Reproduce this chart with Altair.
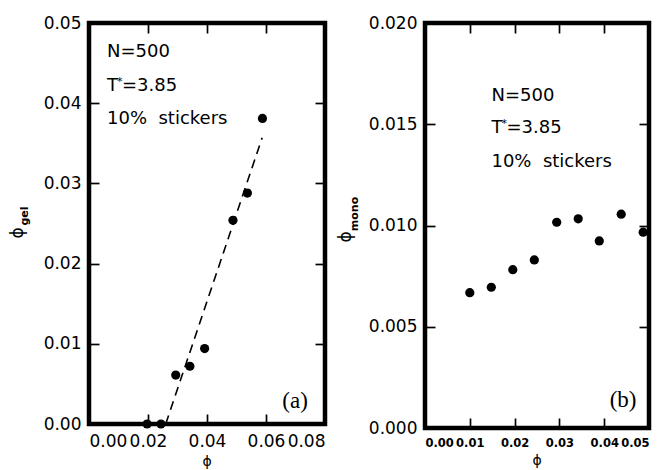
import altair as alt
import pandas as pd

# ---- data ----
phi_a = [0.0197, 0.0244, 0.0294, 0.0342, 0.0392, 0.0488, 0.0537, 0.0588]
phi_gel = [0.0, 0.0, 0.0061, 0.0072, 0.0094, 0.0254, 0.0288, 0.0381]
fit_x = [0.026, 0.0587]
fit_y = [0.0, 0.0357]

phi_b = [0.0100, 0.0148, 0.0196, 0.0244, 0.0294, 0.0342, 0.0389, 0.0438, 0.0487]
phi_mono = [0.00668, 0.00695, 0.00782, 0.0083, 0.01016, 0.01033, 0.00924, 0.01056, 0.00967]

xvals_a = [0, 0.02, 0.04, 0.06, 0.08]
yvals_a = [0, 0.01, 0.02, 0.03, 0.04, 0.05]
xvals_b = [0, 0.01, 0.02, 0.03, 0.04, 0.05]
yvals_b = [0, 0.005, 0.010, 0.015, 0.020]

ann_plain = ["N=500", "10%\u00a0\u00a0stickers"]
ann_t = ["T", "*", "=3.85"]
ann_a_x = 0.0061
ann_a_y_plain = [0.04576, 0.0374]
ann_a_y_t = 0.04152
ann_b_x = 0.01483
ann_b_y_plain = [0.01614, 0.01287]
ann_b_y_t = 0.01455

FONT = "DejaVu Sans"
SERIF = "Liberation Serif"
TICK = 10


def panel(xs, ys, xdom, ydom, xfmt, yfmt, xvals, yvals,
          ann_x, ann_y_plain, ann_y_t, tag, tag_x, tag_y, ysym, ysub, W, H, fit=None,
          sym_dx=-71, sym_dy=210, sub_dx=-64, sub_dy=193, xt_dy=37,
          xlab_size=17, xlab_weight="normal"):
    xscale = alt.Scale(domain=xdom, nice=False, zero=False)
    yscale = alt.Scale(domain=ydom, nice=False, zero=False)
    common = dict(title=None, grid=False, domain=False, tickSize=TICK, offset=-TICK,
                  tickColor="black", tickWidth=1.7, labelOverlap=False)
    xaxis = alt.Axis(orient="bottom", values=xvals, format=xfmt, labelFlush=True,
                     labelPadding=9, labelFont=FONT, labelFontSize=xlab_size,
                     labelFontWeight=xlab_weight, labelColor="black", **common)
    yaxis = alt.Axis(orient="left", values=yvals, format=yfmt, labelPadding=8,
                     labelFont=FONT, labelFontSize=17, labelColor="black", **common)

    def X(f):
        return alt.X(f, type="quantitative", scale=xscale, axis=xaxis)

    def Y(f):
        return alt.Y(f, type="quantitative", scale=yscale, axis=yaxis)

    layers = []
    if fit is not None:
        fdf = pd.DataFrame({"x": fit[0], "y": fit[1]})
        layers.append(alt.Chart(fdf).mark_line(color="black", strokeWidth=1.6,
                                               strokeDash=[9, 6]).encode(x=X("x"), y=Y("y")))
    df = pd.DataFrame({"x": xs, "y": ys})
    layers.append(alt.Chart(df).mark_circle(size=85, color="black", opacity=1,
                                            clip=False).encode(x=X("x"), y=Y("y")))

    # thick frame
    layers.append(alt.Chart(pd.DataFrame({"k": [0]})).mark_rect(
        filled=False, stroke="black", strokeWidth=4.5, fill="transparent").encode(
        x=alt.value(0), x2=alt.value(W), y=alt.value(0), y2=alt.value(H)))

    # annotations
    txt = dict(baseline="alphabetic", font=FONT, fontSize=18, color="black")
    adf = pd.DataFrame({"x": [ann_x] * len(ann_plain), "y": ann_y_plain, "t": ann_plain})
    layers.append(alt.Chart(adf).mark_text(align="left", **txt).encode(
        x=X("x"), y=Y("y"), text="t:N"))
    tdf0 = pd.DataFrame({"x": [ann_x], "y": [ann_y_t], "t": [ann_t[0]]})
    layers.append(alt.Chart(tdf0).mark_text(align="left", **txt).encode(
        x=X("x"), y=Y("y"), text="t:N"))
    tdf1 = pd.DataFrame({"x": [ann_x], "y": [ann_y_t], "t": [ann_t[1]]})
    layers.append(alt.Chart(tdf1).mark_text(align="left", baseline="alphabetic", font=FONT,
                                            fontSize=11, color="black", dx=10, dy=-6).encode(
        x=X("x"), y=Y("y"), text="t:N"))
    tdf2 = pd.DataFrame({"x": [ann_x], "y": [ann_y_t], "t": [ann_t[2]]})
    layers.append(alt.Chart(tdf2).mark_text(align="left", dx=15, **txt).encode(
        x=X("x"), y=Y("y"), text="t:N"))

    gdf = pd.DataFrame({"x": [tag_x], "y": [tag_y], "t": [tag]})
    layers.append(alt.Chart(gdf).mark_text(align="right", baseline="alphabetic", font=SERIF,
                                           fontSize=23, color="black").encode(
        x=X("x"), y=Y("y"), text="t:N"))

    # axis titles (phi with subscript)
    sdf = pd.DataFrame({"t": [ysym]})
    layers.append(alt.Chart(sdf).mark_text(angle=270, align="center", baseline="middle",
                                           font=FONT, fontSize=17, color="black").encode(
        x=alt.value(sym_dx), y=alt.value(sym_dy), text="t:N"))
    bdf = pd.DataFrame({"t": [ysub]})
    layers.append(alt.Chart(bdf).mark_text(angle=270, align="center", baseline="middle",
                                           font=FONT, fontSize=11, fontWeight="bold",
                                           color="black").encode(
        x=alt.value(sub_dx), y=alt.value(sub_dy), text="t:N"))
    xt = pd.DataFrame({"t": ["ϕ"]})
    layers.append(alt.Chart(xt).mark_text(align="center", baseline="middle",
                                          font=FONT, fontSize=14, color="black").encode(
        x=alt.value(W / 2), y=alt.value(H + xt_dy), text="t:N"))
    main = alt.layer(*layers)

    # mirrored inward ticks on the top and right edges
    xaxis2 = alt.Axis(orient="top", values=xvals, labels=False, **common)
    yaxis2 = alt.Axis(orient="right", values=yvals, labels=False, **common)
    mdf = pd.DataFrame({"x": [xdom[0]], "y": [ydom[0]]})
    mirror = alt.Chart(mdf).mark_point(opacity=0).encode(
        x=alt.X("x", type="quantitative", scale=xscale, axis=xaxis2),
        y=alt.Y("y", type="quantitative", scale=yscale, axis=yaxis2))

    return alt.layer(main, mirror).resolve_scale(
        x="independent", y="independent").properties(width=W, height=H)


pa = panel(phi_a, phi_gel, [0, 0.08], [0, 0.05], ".2f", ".2f", xvals_a, yvals_a,
           ann_a_x, ann_a_y_plain, ann_a_y_t, "(a)", 0.0742, 0.002,
           "ϕ", "gel", 236, 401, fit=(fit_x, fit_y),
           sym_dx=-71, sym_dy=210, sub_dx=-64, sub_dy=193, xt_dy=38)

pb = panel(phi_b, phi_mono, [0, 0.05], [0, 0.02], ".2f", ".3f", xvals_b, yvals_b,
           ann_b_x, ann_b_y_plain, ann_b_y_t, "(b)", 0.0472, 0.00104,
           "ϕ", "mono", 224, 405,
           sym_dx=-79, sym_dy=214, sub_dx=-70, sub_dy=191, xt_dy=33,
           xlab_size=11.5, xlab_weight="bold")

chart = alt.hconcat(pa, pb, spacing=9).configure_view(
    strokeWidth=0
).properties(
    padding={"left": 9, "top": 14, "right": 0, "bottom": 0},
    background="white"
)

chart.save("out.html", embed_options={"renderer": "svg", "actions": False})
